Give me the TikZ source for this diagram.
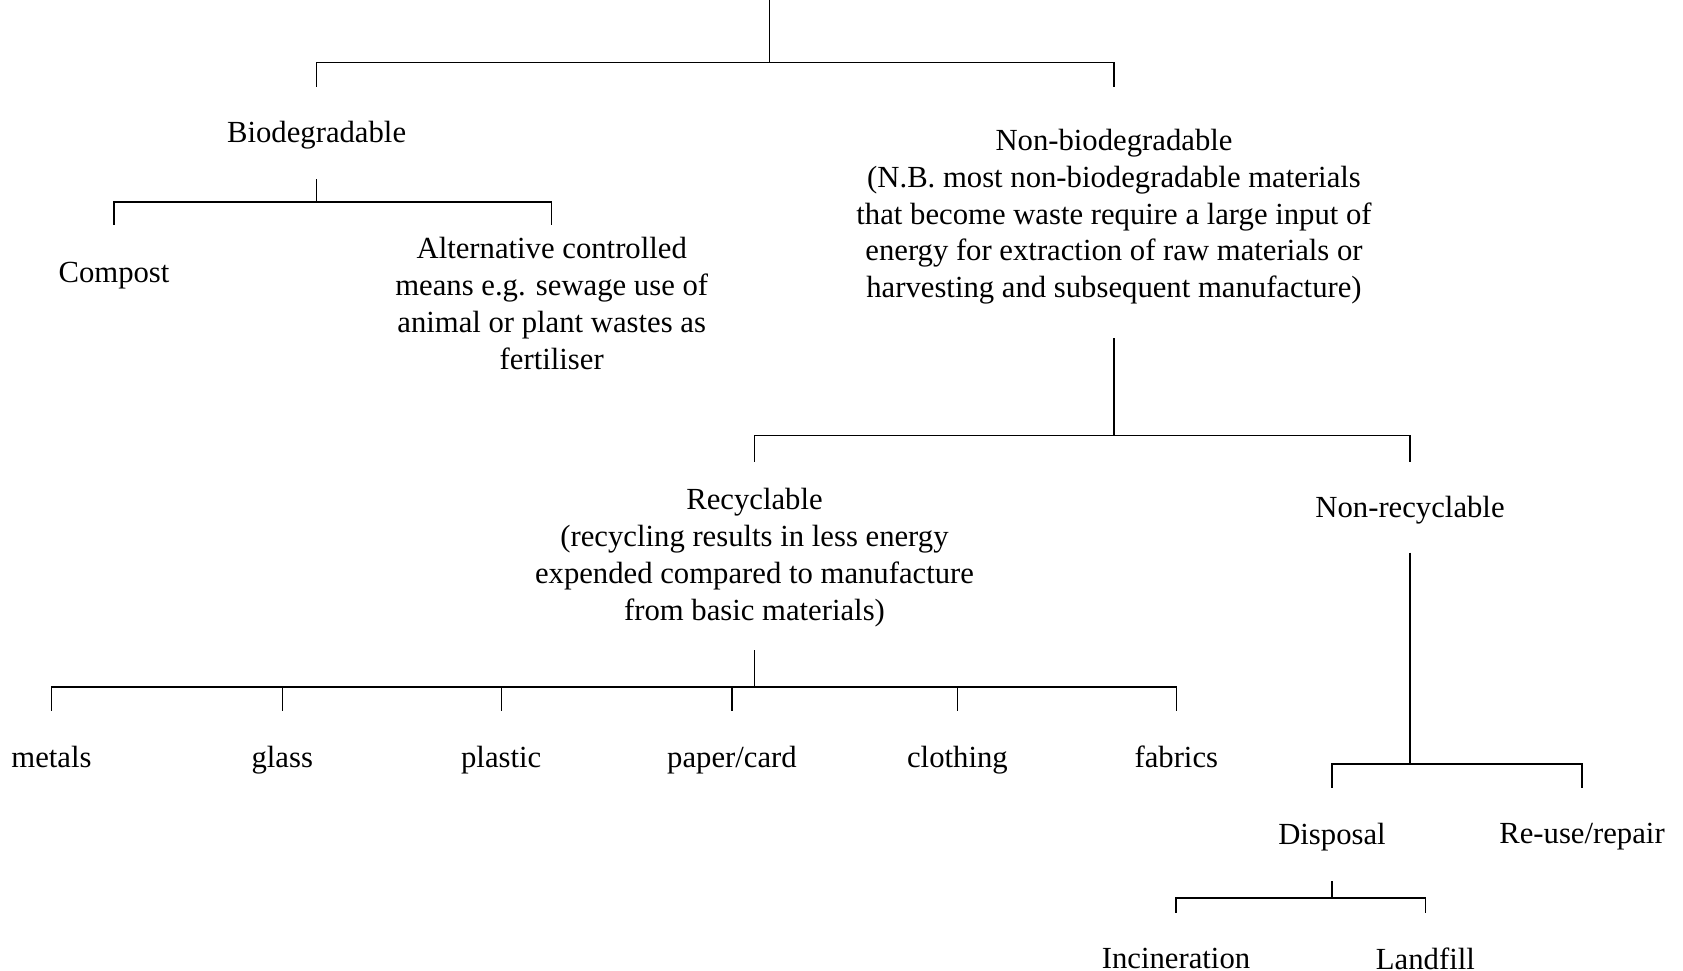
\documentclass[tikz,border=0pt]{standalone}
\usepackage{fontspec}
\setmainfont{Liberation Serif}
\begin{document}
\begin{tikzpicture}[x=1pt, y=-1pt,
   every node/.style={anchor=north, align=center, inner sep=0pt,
                      font=\fontsize{30.7}{36.8}\selectfont},
   line width=1.3pt]
\useasboundingbox (0,0) rectangle (1683,971);

\node (bio) at (316.6,121) {Biodegradable};
\node (nonbio) at (1114,128.5) {Non-biodegradable\\(N.B. most non-biodegradable materials\\that become waste require a large input of\\energy for extraction of raw materials or\\harvesting and subsequent manufacture)};
\node (compost) at (114,261.6) {Compost};
\node (alt) at (551.7,237) {Alternative controlled\\means e.g. sewage use of\\animal or plant wastes as\\fertiliser};
\node (recyc) at (754.5,488) {Recyclable\\(recycling results in less energy\\expended compared to manufacture\\from basic materials)};
\node (nonrec) at (1410,495.6) {Non-recyclable};
\foreach \name/\x/\txt in {metals/51.5/metals, glass/282.3/glass, plastic/501.2/plastic,
    paper/732/{paper/card}, clothing/957.4/clothing, fabrics/1176.3/fabrics}
  \node (\name) at (\x,745.7) {\txt};
\node (disposal) at (1332,823) {Disposal};
\node (reuse) at (1582,823) {Re-use/repair};
\node (incin) at (1176,947.5) {Incineration};
\node (landfill) at (1425.4,947.5) {Landfill};

\coordinate (top) at (769.6,0);
\coordinate (fork) at (769.6,62.3);
\draw (top) -- (fork);
\draw (bio.north |- 0,87) |- (fork) -| (nonbio.north |- 0,87);

\draw (bio.south |- 0,179) -- (bio.south |- 0,202) -| (compost.north |- 0,225.4)
      (bio.south |- 0,202) -| (alt.north |- 0,225.4);

\draw (nonbio.south |- 0,338) -- (nonbio.south |- 0,435.8) -| (recyc.north |- 0,461.5)
      (nonbio.south |- 0,435.8) -| (nonrec.north |- 0,461.5);

\draw (recyc.south |- 0,650) -- (recyc.south |- 0,687);
\draw (metals.north |- 0,710.5) |- (fabrics.north |- 0,687) -- (fabrics.north |- 0,710.5);
\foreach \c in {glass,plastic,paper,clothing}
  \draw (\c.north |- 0,687) -- (\c.north |- 0,710.5);

\draw (nonrec.south |- 0,552.7) -- (nonrec.south |- 0,764) -| (disposal.north |- 0,788)
      (nonrec.south |- 0,764) -| (reuse.north |- 0,788);

\draw (disposal.south |- 0,881) -- (disposal.south |- 0,898) -| (incin.north |- 0,913)
      (disposal.south |- 0,898) -| (landfill.north |- 0,913);
\end{tikzpicture}
\end{document}
